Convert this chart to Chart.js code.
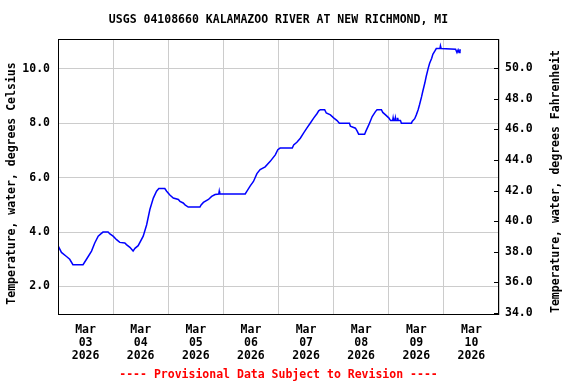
<!DOCTYPE html>
<html>
<head>
<meta charset="utf-8">
<script src="https://cdn.jsdelivr.net/npm/chart.js@4/dist/chart.umd.min.js"></script>
<style>
html,body{margin:0;padding:0;background:#fff;}
#wrap{width:576px;height:384px;}
</style>
</head>
<body>
<div id="wrap"><canvas id="c" width="576" height="384"></canvas></div>
<script>
// ---- text ----
const chartTitle = 'USGS 04108660 KALAMAZOO RIVER AT NEW RICHMOND, MI';
const footerText = '---- Provisional Data Subject to Revision ----';
const leftAxisTitle = 'Temperature, water, degrees Celsius';
const rightAxisTitle = 'Temperature, water, degrees Fahrenheit';

// ---- x tick labels (one per day, placed at noon) ----
const monthLabel = 'Mar';
const dayLabels = ['03', '04', '05', '06', '07', '08', '09', '10'];
const yearLabel = '2026';

// ---- series: hours since Mar 03 2026 00:00, water temperature (deg C) ----
const hours = [0, 1.5, 3.7, 5.1, 6.5, 10.9, 12.4, 14.6, 16.0, 17.5, 18.9, 19.6, 21.8, 22.6, 24.0, 25.5,
  26.9, 29.1, 29.8, 31.3, 32.7, 33.5, 34.9, 37.1, 38.6, 40.0, 41.5, 42.9, 43.9, 46.5, 47.3, 48.7,
  50.2, 52.4, 53.1, 54.5, 55.3, 56.7, 61.8, 62.3, 63.3, 65.5, 66.9, 68.4, 70.0, 70.2, 70.4, 81.5,
  82.2, 83.7, 85.1, 86.6, 88.0, 90.2, 92.4, 94.6, 95.7, 96.7, 102.0, 102.6, 104.0, 105.5, 106.9,
  108.4, 109.8, 111.3, 112.8, 113.5, 114.2, 116.1, 116.8, 118.6, 120.0, 121.5, 122.5, 126.9, 127.3,
  129.5, 130.2, 130.9, 133.5, 134.1, 135.3, 136.8, 138.2, 138.9, 140.8, 141.4, 142.6, 144.0, 144.8,
  145.7, 145.9, 146.1, 146.7, 146.9, 147.1, 147.7, 147.9, 148.1, 149.1, 149.5, 153.9, 154.2, 155.3,
  156.0, 156.8, 157.4, 158.3, 158.8, 159.7, 160.3, 161.2, 161.8, 162.7, 163.2, 164.1, 164.7, 166.3,
  166.5, 166.8, 173.1, 173.7, 174.2, 174.6, 175.0, 175.4];
const tempC = [3.5, 3.25, 3.1, 3.0, 2.8, 2.8, 3.0, 3.3, 3.6, 3.85, 3.95, 4.0, 4.0, 3.93, 3.85, 3.72,
  3.62, 3.6, 3.54, 3.44, 3.3, 3.4, 3.5, 3.85, 4.27, 4.83, 5.25, 5.5, 5.6, 5.6, 5.5, 5.36,
  5.25, 5.2, 5.13, 5.07, 5.0, 4.92, 4.92, 5.0, 5.09, 5.2, 5.31, 5.38, 5.4, 5.5, 5.4, 5.4,
  5.5, 5.7, 5.86, 6.15, 6.3, 6.4, 6.6, 6.84, 7.03, 7.09, 7.09, 7.2, 7.3, 7.45, 7.64,
  7.83, 8.0, 8.19, 8.36, 8.46, 8.5, 8.5, 8.38, 8.31, 8.2, 8.1, 8.0, 8.0, 7.89,
  7.82, 7.72, 7.6, 7.6, 7.72, 7.94, 8.25, 8.43, 8.5, 8.5, 8.4, 8.31, 8.2, 8.1,
  8.1, 8.2, 8.1, 8.1, 8.2, 8.1, 8.1, 8.2, 8.1, 8.1, 8.0, 8.0, 8.07, 8.17,
  8.31, 8.5, 8.68, 8.98, 9.17, 9.48, 9.72, 10.03, 10.21, 10.39, 10.54, 10.66, 10.75, 10.75,
  10.85, 10.75, 10.72, 10.6, 10.7, 10.6, 10.7, 10.7];

// ---- axis ranges ----
const xRange = [0, 192];            // Mar 03 00:00 .. Mar 11 00:00 (hours)
const celsiusRange = [0.95, 11.1];
const fahrenheitRange = [33.87, 51.9];

const FONT = 'DejaVu Sans Mono';
const baseFont = {family: FONT, size: 11.5, weight: 'bold', lineHeight: 1.2};

const framePlugin = {
  id: 'frame',
  afterDraw(chart) {
    const {ctx, chartArea: a, scales} = chart;
    ctx.save();
    ctx.strokeStyle = '#000';
    ctx.lineWidth = 1;
    ctx.strokeRect(Math.round(a.left) + 0.5, Math.round(a.top) + 0.5,
      Math.round(a.right - a.left) - 1, Math.round(a.bottom - a.top) - 1);
    // inward tick marks of the Fahrenheit axis
    const y2 = scales.y2;
    ctx.beginPath();
    y2.ticks.forEach(t => {
      const py = Math.round(y2.getPixelForValue(t.value)) + 0.5;
      ctx.moveTo(a.right - 5, py);
      ctx.lineTo(a.right, py);
    });
    ctx.stroke();
    // axis titles
    ctx.fillStyle = '#000';
    ctx.font = 'bold 11.5px "' + FONT + '"';
    ctx.textAlign = 'center';
    ctx.textBaseline = 'middle';
    ctx.save();
    ctx.translate(12, 183.5);
    ctx.rotate(-Math.PI / 2);
    ctx.fillText(leftAxisTitle, 0, 0);
    ctx.restore();
    ctx.save();
    ctx.translate(556, 181.5);
    ctx.rotate(-Math.PI / 2);
    ctx.fillText(rightAxisTitle, 0, 0);
    ctx.restore();
    ctx.restore();
  }
};

new Chart(document.getElementById('c'), {
  type: 'line',
  data: {
    datasets: [{
      data: hours.map((h, i) => ({x: h, y: tempC[i]})),
      borderColor: '#0000ff',
      borderWidth: 1.5,
      pointRadius: 0,
      tension: 0,
      fill: false,
      yAxisID: 'y'
    }]
  },
  options: {
    responsive: false,
    animation: false,
    devicePixelRatio: 1,
    layout: {padding: 0},
    plugins: {
      legend: {display: false},
      tooltip: {enabled: false},
      title: {
        display: true, text: chartTitle, fullSize: false, color: '#000',
        font: baseFont, padding: {top: 13, bottom: 12.2}
      },
      subtitle: {
        display: true, text: footerText, position: 'bottom', fullSize: false, color: '#ff0000',
        font: baseFont, padding: {top: 2, bottom: 2}
      }
    },
    scales: {
      x: {
        type: 'linear', position: 'bottom', min: xRange[0], max: xRange[1],
        afterFit: s => { s.height = 51.2; },
        border: {display: false},
        grid: {
          drawTicks: false,
          lineWidth: 1,
          color: c => (c.tick && c.tick.value % 24 === 0) ? '#cccccc' : 'rgba(0,0,0,0)'
        },
        ticks: {
          stepSize: 12, autoSkip: false, maxRotation: 0, minRotation: 0,
          padding: 9, color: '#000',
          font: {family: FONT, size: 11.5, weight: 'bold', lineHeight: 13 / 11.5},
          callback: v => (v % 24 === 12) ? [monthLabel, dayLabels[Math.floor(v / 24)], yearLabel] : ''
        }
      },
      y: {
        type: 'linear', position: 'left', min: celsiusRange[0], max: celsiusRange[1],
        afterFit: s => { s.width = 58; },
        border: {display: false},
        grid: {drawTicks: false, color: '#cccccc', lineWidth: 1},
        ticks: {
          stepSize: 2, includeBounds: false, padding: 8, color: '#000',
          font: baseFont, callback: v => Number(v).toFixed(1)
        }
      },
      y2: {
        type: 'linear', position: 'right', min: fahrenheitRange[0], max: fahrenheitRange[1],
        afterFit: s => { s.width = 77; },
        border: {display: false},
        grid: {drawOnChartArea: false, drawTicks: false},
        ticks: {
          stepSize: 2, includeBounds: false, padding: 6, color: '#000',
          font: baseFont, callback: v => Number(v).toFixed(1)
        }
      }
    }
  },
  plugins: [framePlugin]
});
</script>
</body>
</html>
